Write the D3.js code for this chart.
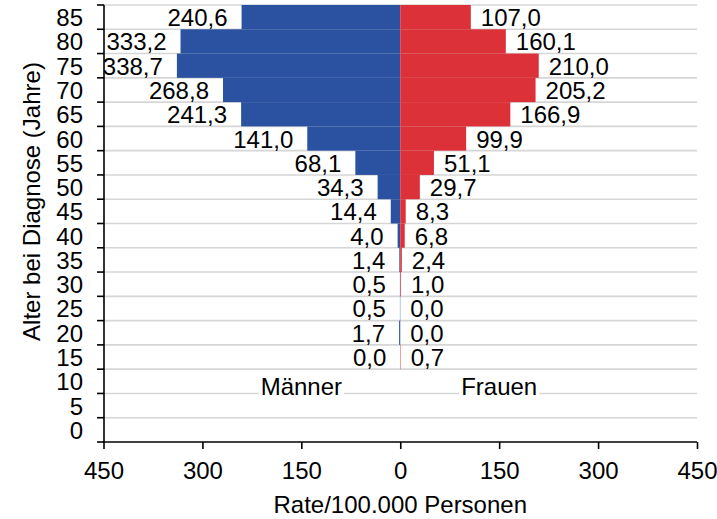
<!DOCTYPE html>
<meta charset="utf-8">
<html>
<head>
  <script src="https://d3js.org/d3.v7.min.js" charset="utf-8"></script>
</head>
<style>
body {
    margin: 0;
    background-color: white;
}
text {
    font-family: "Liberation Sans", Arial, sans-serif;
    fill: #000;
}
</style>
<body>
<div id="container"></div>
<script type="text/javascript">

var ageGroups = ["85", "80", "75", "70", "65", "60", "55", "50", "45", "40", "35", "30", "25", "20", "15", "10", "5", "0"]
var maenner = [240.6, 333.2, 338.7, 268.8, 241.3, 141.0, 68.1, 34.3, 14.4, 4.0, 1.4, 0.5, 0.5, 1.7, 0.0, null, null, null]
var frauen = [107.0, 160.1, 210.0, 205.2, 166.9, 99.9, 51.1, 29.7, 8.3, 6.8, 2.4, 1.0, 0.0, 0.0, 0.7, null, null, null]
var xTicks = [-450, -300, -150, 0, 150, 300, 450]

var width = 717
var height = 519
var margin = {left: 104, right: 20, top: 5, bottom: 77}
var fontSize = 24

var colMaenner = "#2a52a1"
var colFrauen = "#dc3139"

var svg = d3.select("#container")
            .append("svg")
            .attr("width", width)
            .attr("height", height)

var x = d3.scaleLinear()
          .domain([-450, 450])
          .range([margin.left - 0.5, width - margin.right])

var y = d3.scaleBand()
          .domain(ageGroups)
          .range([margin.top, height - margin.bottom])
          .padding(0)

var rows = ageGroups.map((g, i) => ({group: g, m: maenner[i], f: frauen[i]}))
var fmt = (v) => d3.format(".1f")(v).replace(".", ",")

// gridlines at band boundaries
var bounds = ageGroups.map((g) => y(g))
svg.append("g")
   .selectAll("line")
   .data(bounds)
   .enter()
   .append("line")
   .attr("x1", x(-450))
   .attr("x2", x(450))
   .attr("y1", (d) => d)
   .attr("y2", (d) => d)
   .attr("stroke", "#d6d6d6")
   .attr("stroke-width", 1.6)

// bars
svg.append("g")
   .selectAll("rect")
   .data(rows.filter((d) => d.m != null))
   .enter()
   .append("rect")
   .attr("x", (d) => x(-d.m))
   .attr("y", (d) => y(d.group))
   .attr("width", (d) => x(0) - x(-d.m))
   .attr("height", y.bandwidth())
   .attr("fill", colMaenner)

svg.append("g")
   .selectAll("rect")
   .data(rows.filter((d) => d.f != null))
   .enter()
   .append("rect")
   .attr("x", x(0))
   .attr("y", (d) => y(d.group))
   .attr("width", (d) => x(d.f) - x(0))
   .attr("height", y.bandwidth())
   .attr("fill", colFrauen)

// value labels
svg.append("g")
   .selectAll("text")
   .data(rows.filter((d) => d.m != null))
   .enter()
   .append("text")
   .attr("x", (d) => x(-d.m) - 14)
   .attr("y", (d) => y(d.group) + y.bandwidth() / 2 + 9)
   .attr("text-anchor", "end")
   .attr("font-size", fontSize)
   .text((d) => fmt(d.m))

svg.append("g")
   .selectAll("text")
   .data(rows.filter((d) => d.f != null))
   .enter()
   .append("text")
   .attr("x", (d) => x(d.f) + 10)
   .attr("y", (d) => y(d.group) + y.bandwidth() / 2 + 9)
   .attr("text-anchor", "start")
   .attr("font-size", fontSize)
   .text((d) => fmt(d.f))

// "Männer" / "Frauen" text boxes
var boxes = [{label: "Männer", v: -150}, {label: "Frauen", v: 150}]
var boxG = svg.append("g")
boxes.forEach(function(b) {
  var t = boxG.append("text")
              .attr("x", x(b.v))
              .attr("y", y("10") + y.bandwidth() + 1.5)
              .attr("text-anchor", "middle")
              .attr("font-size", fontSize)
              .text(b.label)
  var bb = t.node().getBBox()
  boxG.insert("rect", "text")
      .attr("x", bb.x - 2)
      .attr("y", bb.y)
      .attr("width", bb.width + 4)
      .attr("height", bb.height)
      .attr("fill", "white")
})

// y axis
var yAxis = svg.append("g")
yAxis.append("line")
     .attr("x1", margin.left).attr("x2", margin.left)
     .attr("y1", margin.top).attr("y2", height - margin.bottom)
     .attr("stroke", "#000").attr("stroke-width", 1.6)
yAxis.selectAll(".ytick")
     .data(bounds.concat([height - margin.bottom]))
     .enter()
     .append("line")
     .attr("x1", margin.left - 7).attr("x2", margin.left)
     .attr("y1", (d) => d).attr("y2", (d) => d)
     .attr("stroke", "#000").attr("stroke-width", 1.6)
yAxis.selectAll("text")
     .data(ageGroups)
     .enter()
     .append("text")
     .attr("x", margin.left - 21)
     .attr("y", (d) => y(d) + y.bandwidth() / 2 + 9)
     .attr("text-anchor", "end")
     .attr("font-size", fontSize)
     .text((d) => d)

// x axis
var xAxis = svg.append("g")
               .attr("transform", "translate(0," + (height - margin.bottom) + ")")
               .call(d3.axisBottom(x).tickValues(xTicks).tickFormat((d) => Math.abs(d)).tickSize(7).tickPadding(13))
xAxis.select(".domain").attr("stroke-width", 1.6).attr("d", "M" + (x(-450)) + ",0H" + x(450))
xAxis.selectAll(".tick line").attr("stroke-width", 1.6)
xAxis.selectAll(".tick text")
     .attr("font-size", fontSize)
     .attr("font-family", "'Liberation Sans', Arial, sans-serif")
     .attr("fill", "#000")

svg.append("text")
   .attr("x", x(0))
   .attr("y", 513)
   .attr("text-anchor", "middle")
   .attr("font-size", fontSize)
   .text("Rate/100.000 Personen")

svg.append("text")
   .attr("transform", "translate(40," + ((margin.top + height - margin.bottom) / 2 - 22) + ") rotate(-90)")
   .attr("text-anchor", "middle")
   .attr("font-size", fontSize)
   .text("Alter bei Diagnose (Jahre)")

</script>
</body>
</html>
